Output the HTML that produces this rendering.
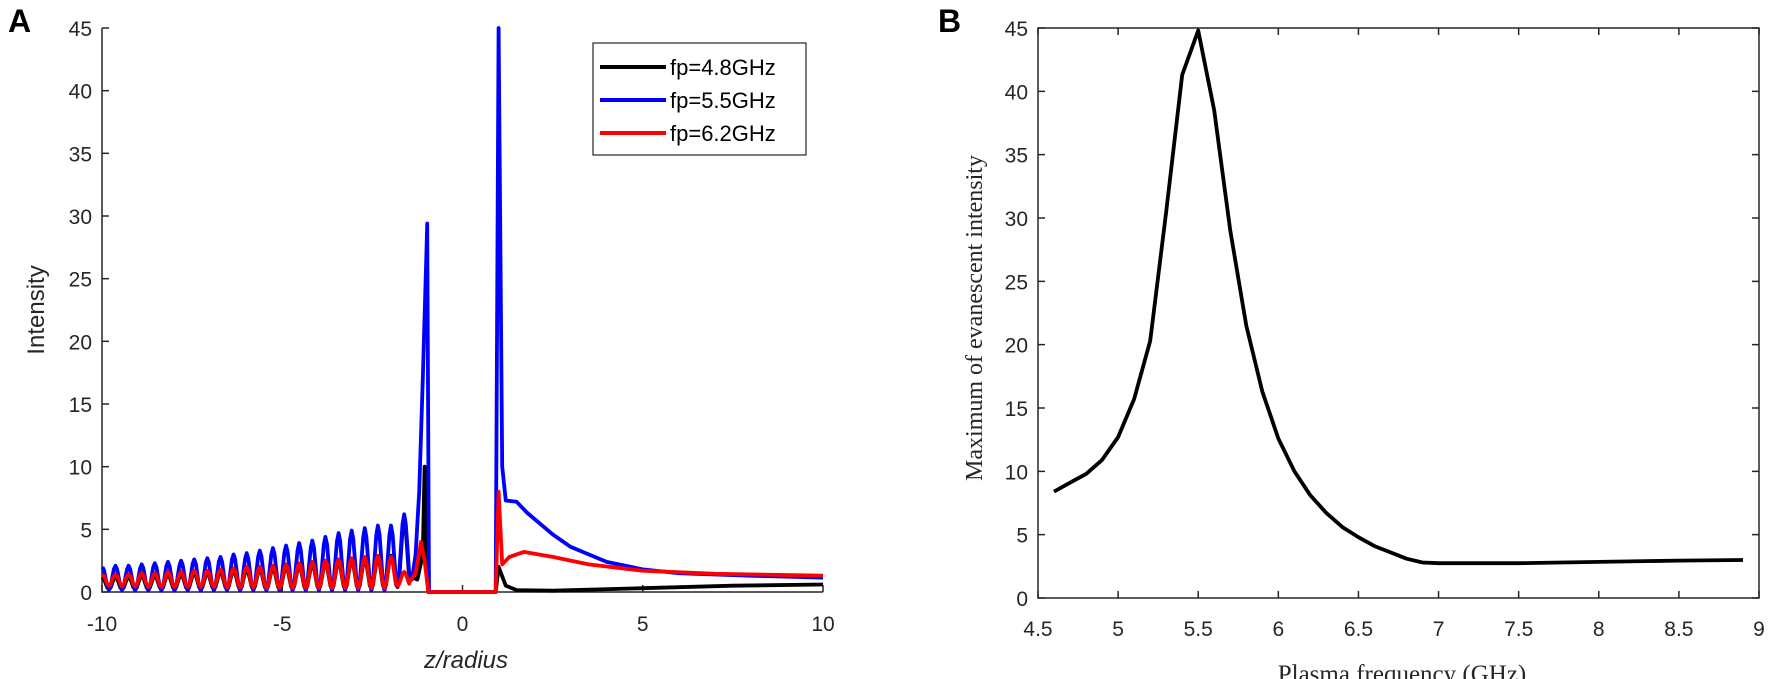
<!DOCTYPE html>
<html><head><meta charset="utf-8">
<style>
body{margin:0;background:#fff;}
svg{display:block;font-family:"Liberation Sans",Arial,sans-serif;}
.tk{font-size:21px;fill:#262626;}
</style></head>
<body>
<svg id="chart" width="1772" height="679" viewBox="0 0 1772 679" xmlns="http://www.w3.org/2000/svg">
<g id="pa"></g>
<g id="pb"></g>
</svg>
<script>
// ---------- Panel A data ----------
const aPeriod = 0.364;
const aStart = -9.99;
const bluePeaks = [2.0,2.1,2.1,2.2,2.3,2.4,2.5,2.6,2.7,2.8,3.0,3.1,3.3,3.5,3.7,3.9,4.1,4.4,4.7,4.9,5.1,5.3,5.3,6.2];
const blueTroughs = [0.2,0.15,0.15,0.1,0.1,0.1,0.1,0.1,0.1,0.1,0.1,0.1,0.1,0.1,0.1,0.1,0.1,0.1,0.1,0.1,0.1,0.1,0.1,0.8];
const redPeaks = [1.4,1.4,1.4,1.5,1.5,1.6,1.6,1.7,1.7,1.8,1.9,2.0,2.0,2.1,2.2,2.3,2.4,2.5,2.6,2.7,2.8,2.9,2.8,1.6];
const redTroughs = [0.5,0.5,0.45,0.45,0.4,0.4,0.4,0.4,0.4,0.4,0.35,0.35,0.35,0.3,0.3,0.3,0.3,0.3,0.3,0.3,0.3,0.3,0.3,0.5];
const blackPeaks = [1.2,1.2,1.2,1.3,1.3,1.4,1.4,1.5,1.5,1.6,1.7,1.8,1.8,1.9,2.0,2.1,2.2,2.3,2.4,2.5,2.6,2.7,2.9,5.7];
const blackTroughs = [0.2,0.2,0.2,0.2,0.2,0.2,0.2,0.2,0.2,0.2,0.2,0.2,0.2,0.2,0.2,0.2,0.2,0.2,0.2,0.2,0.2,0.2,0.2,0.4];
const blueTailZ = [-1.4,-1.3,-1.2,-1.1,-1.0,-0.98,-0.93,0.92,1.0,1.1,1.2,1.5,1.8,2.5,3,4,5,6,8,10];
const blueTailV = [1.0,3,8,17,27,29.4,0,0,45,10,7.3,7.2,6.3,4.6,3.6,2.4,1.8,1.5,1.3,1.15];
const redTailZ = [-1.45,-1.3,-1.15,-1.05,-0.95,0.92,1.0,1.1,1.3,1.7,2.5,3.5,5,7,10];
const redTailV = [0.9,1.5,4.0,2.5,0,0,8,2.2,2.8,3.2,2.8,2.2,1.7,1.45,1.3];
const blackTailZ = [-1.4,-1.25,-1.1,-1.05,-1.0,-0.95,0.92,1.0,1.2,1.5,2.5,5,7.5,10];
const blackTailV = [1.2,1.0,3,10,3,0,0,2,0.5,0.15,0.1,0.3,0.5,0.6];
const aXTicks = [-10,-5,0,5,10];
const aYTicks = [0,5,10,15,20,25,30,35,40,45];
const legendLabels = ["fp=4.8GHz","fp=5.5GHz","fp=6.2GHz"];
// ---------- Panel B data ----------
const bFreq = [4.6,4.7,4.8,4.9,5.0,5.1,5.2,5.3,5.4,5.5,5.6,5.7,5.8,5.9,6.0,6.1,6.2,6.3,6.4,6.5,6.6,6.7,6.8,6.9,7.0,7.5,8.0,8.5,8.9];
const bMax = [8.4,9.1,9.8,10.9,12.7,15.7,20.3,30.5,41.3,44.8,38.5,29,21.5,16.3,12.6,10.0,8.1,6.7,5.6,4.8,4.1,3.6,3.1,2.8,2.75,2.75,2.85,2.95,3.0];
const bXTicks = [4.5,5,5.5,6,6.5,7,7.5,8,8.5,9];
const bYTicks = [0,5,10,15,20,25,30,35,40,45];

const NS="http://www.w3.org/2000/svg";
function mk(parent,tag,attrs,text){const e=document.createElementNS(NS,tag);for(const k in attrs)e.setAttribute(k,attrs[k]);if(text!==undefined)e.textContent=text;parent.appendChild(e);return e;}

const aL=102,aR=823,aT=28,aB=592;
const ax=z=>aL+(z+10)/20*(aR-aL);
const ay=v=>aB-v/45*(aB-aT);
const bL=1038,bR=1759,bT=28,bB=598;
const bx=f=>bL+(f-4.5)/4.5*(bR-bL);
const by=v=>bB-v/45*(bB-bT);

function oscPoints(peaks,troughs,tz,tv){
  const pts=[];
  for(let i=0;i<peaks.length;i++){
    const zp=aStart+i*aPeriod;
    for(let s=0;s<8;s++){
      const f=s/8;
      const z=zp-aPeriod/2+f*aPeriod;
      const v=troughs[i]+(peaks[i]-troughs[i])*(1-Math.cos(2*Math.PI*f))/2;
      if(z>=-10)pts.push([z,v]);
    }
  }
  for(let i=0;i<tz.length;i++)pts.push([tz[i],tv[i]]);
  return pts.map(p=>ax(p[0]).toFixed(1)+","+ay(p[1]).toFixed(1)).join(" ");
}
const pa=document.getElementById('pa');
const sa=[["black",blackPeaks,blackTroughs,blackTailZ,blackTailV,"series-fp-4-8"],["#0000ff",bluePeaks,blueTroughs,blueTailZ,blueTailV,"series-fp-5-5"],["#ff0000",redPeaks,redTroughs,redTailZ,redTailV,"series-fp-6-2"]];
let e;
e=mk(pa,'path',{d:`M${aL},${aT} V${aB} H${aR}`,stroke:'#262626','stroke-width':1.5,fill:'none'});


aYTicks.forEach(v=>{
  e=mk(pa,'line',{x1:aL,x2:aL+7,y1:ay(v),y2:ay(v),stroke:'#262626','stroke-width':1.5});
  
  
  e=mk(pa,'text',{x:aL-10,y:ay(v)+8,'text-anchor':'end',class:'tk'},v);
  
  
});
aXTicks.forEach(v=>{
  e=mk(pa,'line',{x1:ax(v),x2:ax(v),y1:aB,y2:aB-7,stroke:'#262626','stroke-width':1.5});
  
  
  e=mk(pa,'text',{x:ax(v),y:631,'text-anchor':'middle',class:'tk'},v);
  
  
});
sa.forEach(s=>{
  e=mk(pa,'polyline',{points:oscPoints(s[1],s[2],s[3],s[4]),stroke:s[0],'stroke-width':3.8,fill:'none','stroke-linejoin':'round'});
  
  
});
e=mk(pa,'rect',{x:593,y:43,width:213,height:112,fill:'#fff',stroke:'#262626','stroke-width':1.2});


legendLabels.forEach((t,i)=>{
  const y=67+i*33;
  e=mk(pa,'line',{x1:600,x2:666,y1:y,y2:y,stroke:sa[i][0],'stroke-width':4});
  
  
  e=mk(pa,'text',{x:670,y:y+8,'font-size':22,fill:'#000'},t);
  
  
});
e=mk(pa,'text',{x:0,y:0,'font-size':24,fill:'#262626',transform:'translate(44,310) rotate(-90)','text-anchor':'middle'},'Intensity');


e=mk(pa,'text',{x:466,y:668,'font-size':24,fill:'#262626','font-style':'italic','text-anchor':'middle'},'z/radius');


e=mk(pa,'text',{x:8,y:32,'font-size':32,'font-weight':'bold',fill:'#000'},'A');



const pb=document.getElementById('pb');
e=mk(pb,'rect',{x:bL,y:bT,width:bR-bL,height:bB-bT,fill:'none',stroke:'#262626','stroke-width':1.5});


bYTicks.forEach(v=>{
  e=mk(pb,'path',{d:`M${bL},${by(v)} h7 M${bR},${by(v)} h-7`,stroke:'#262626','stroke-width':1.5});
  
  
  e=mk(pb,'text',{x:bL-10,y:by(v)+8,'text-anchor':'end',class:'tk'},v);
  
  
});
bXTicks.forEach(v=>{
  e=mk(pb,'path',{d:`M${bx(v)},${bB} v-7 M${bx(v)},${bT} v7`,stroke:'#262626','stroke-width':1.5});
  
  
  e=mk(pb,'text',{x:bx(v),y:636,'text-anchor':'middle',class:'tk'},v);
  
  
});
e=mk(pb,'polyline',{points:bFreq.map((f,i)=>bx(f).toFixed(1)+","+by(bMax[i]).toFixed(1)).join(" "),stroke:'#000','stroke-width':3.8,fill:'none','stroke-linejoin':'round'});


e=mk(pb,'text',{x:0,y:0,'font-size':24,fill:'#262626','font-family':'"Liberation Serif",serif',transform:'translate(982,318) rotate(-90)','text-anchor':'middle'},'Maximum of evanescent intensity');


e=mk(pb,'text',{x:1402,y:682,'font-size':25,fill:'#262626','font-family':'"Liberation Serif",serif','text-anchor':'middle'},'Plasma frequency (GHz)');


e=mk(pb,'text',{x:938,y:32,'font-size':32,'font-weight':'bold',fill:'#000'},'B');


</script>
</body></html>
